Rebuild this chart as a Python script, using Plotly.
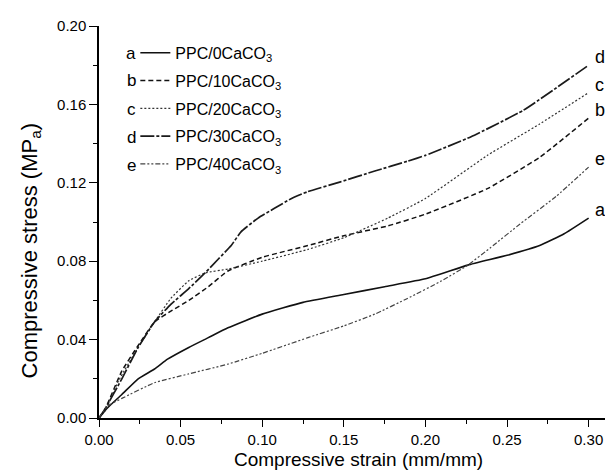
import plotly.graph_objects as go

# ---- data ----
x_a = [0, 0.005, 0.014, 0.024, 0.034, 0.042, 0.055, 0.067, 0.079, 0.10, 0.125, 0.15, 0.175, 0.20, 0.226, 0.25, 0.27, 0.285, 0.30]
y_a = [0, 0.005, 0.012, 0.020, 0.025, 0.030, 0.036, 0.041, 0.046, 0.053, 0.059, 0.063, 0.067, 0.071, 0.078, 0.083, 0.088, 0.094, 0.102]

x_b = [0, 0.004, 0.014, 0.024, 0.034, 0.045, 0.055, 0.067, 0.079, 0.10, 0.128, 0.15, 0.177, 0.20, 0.238, 0.27, 0.30]
y_b = [0, 0.005, 0.024, 0.037, 0.049, 0.055, 0.060, 0.067, 0.075, 0.082, 0.088, 0.093, 0.098, 0.104, 0.117, 0.133, 0.153]

x_c = [0, 0.004, 0.012, 0.024, 0.034, 0.044, 0.055, 0.065, 0.079, 0.10, 0.128, 0.15, 0.177, 0.20, 0.238, 0.27, 0.30]
y_c = [0, 0.004, 0.019, 0.036, 0.049, 0.061, 0.070, 0.074, 0.076, 0.080, 0.086, 0.092, 0.102, 0.112, 0.134, 0.150, 0.166]

x_d = [0, 0.004, 0.014, 0.024, 0.034, 0.044, 0.055, 0.065, 0.073, 0.081, 0.087, 0.0975, 0.1075, 0.118, 0.128, 0.148, 0.169, 0.189, 0.20, 0.228, 0.26, 0.30]
y_d = [0, 0.005, 0.020, 0.036, 0.049, 0.058, 0.066, 0.074, 0.081, 0.088, 0.095, 0.102, 0.107, 0.112, 0.1155, 0.1205, 0.126, 0.131, 0.134, 0.1435, 0.157, 0.180]

x_e = [0, 0.005, 0.014, 0.034, 0.055, 0.079, 0.10, 0.128, 0.15, 0.169, 0.189, 0.21, 0.226, 0.24, 0.258, 0.28, 0.30]
y_e = [0, 0.006, 0.010, 0.018, 0.0225, 0.0275, 0.033, 0.041, 0.047, 0.053, 0.061, 0.070, 0.078, 0.087, 0.099, 0.113, 0.128]

series_names = ["PPC/0CaCO<sub>3</sub>", "PPC/10CaCO<sub>3</sub>", "PPC/20CaCO<sub>3</sub>",
                "PPC/30CaCO<sub>3</sub>", "PPC/40CaCO<sub>3</sub>"]
series_letters = ["a", "b", "c", "d", "e"]
x_ticks = [0.00, 0.05, 0.10, 0.15, 0.20, 0.25, 0.30]
y_ticks = [0.00, 0.04, 0.08, 0.12, 0.16, 0.20]

xs = [x_a, x_b, x_c, x_d, x_e]
ys = [y_a, y_b, y_c, y_d, y_e]

styles = [
    dict(color="#111111", width=1.6, dash="solid"),
    dict(color="#111111", width=1.5, dash="5px,3px"),
    dict(color="#333333", width=1.2, dash="2px,2px"),
    dict(color="#1a1a1a", width=1.7, dash="14px,2px,3px,2px"),
    dict(color="#444444", width=1.2, dash="5px,2px,2px,2px,2px,2px"),
]

FONT = "Arial, 'Liberation Sans', sans-serif"

fig = go.Figure()
for i in range(5):
    fig.add_trace(go.Scatter(
        x=xs[i], y=ys[i], mode="lines", name=series_names[i],
        line=dict(shape="spline", smoothing=0.4, **styles[i]),
        legendgroup=series_letters[i],
    ))

# end-of-curve letters
for i in range(5):
    fig.add_annotation(x=xs[i][-1], y=ys[i][-1], text=series_letters[i],
                       showarrow=False, xanchor="left", yanchor="bottom",
                       xshift=4, yshift=-4,
                       font=dict(family=FONT, size=18, color="#000"))

# legend letters
for i in range(5):
    fig.add_annotation(xref="paper", yref="paper", x=0.062, y=(410 - 45 - 28 * i) / 392,
                       text=series_letters[i], showarrow=False, xanchor="center", yanchor="middle",
                       font=dict(family=FONT, size=17, color="#000"))

# axis titles as annotations
fig.add_annotation(xref="paper", yref="paper", x=-0.131, y=0.425,
                   text="Compressive stress (MP<sub>a</sub>)", textangle=-90,
                   showarrow=False, xanchor="center", yanchor="middle",
                   font=dict(family=FONT, size=22, color="#000"))
fig.add_annotation(xref="paper", yref="paper", x=0.5, y=-0.107,
                   text="Compressive strain (mm/mm)",
                   showarrow=False, xanchor="center", yanchor="middle",
                   font=dict(family=FONT, size=19, color="#000"))

fig.update_layout(
    width=613, height=470,
    margin=dict(l=91, r=3, t=18, b=60, autoexpand=False),
    paper_bgcolor="white", plot_bgcolor="white",
    font=dict(family=FONT, color="#000"),
    showlegend=True,
    legend=dict(x=0.07, y=0.975, xanchor="left", yanchor="top",
                bgcolor="rgba(0,0,0,0)", font=dict(family=FONT, size=16),
                tracegroupgap=4, itemwidth=30),
)

fig.update_xaxes(
    range=[0, 0.318], tickvals=x_ticks, ticktext=[f"{v:.2f}" for v in x_ticks],
    showline=True, linecolor="#000", linewidth=1.5, mirror=False,
    ticks="outside", ticklen=7, tickwidth=1.2, tickcolor="#000",
    minor=dict(dtick=0.025, tick0=0, ticks="outside", ticklen=4, tickcolor="#000", tickwidth=1),
    showgrid=False, zeroline=False, automargin=False,
    tickfont=dict(family=FONT, size=15, color="#000"),
)
fig.update_yaxes(
    range=[0, 0.2], tickvals=y_ticks, ticktext=[f"{v:.2f}" for v in y_ticks],
    showline=True, linecolor="#000", linewidth=1.5, mirror=False,
    ticks="outside", ticklen=8, tickwidth=1.2, tickcolor="#000",
    minor=dict(dtick=0.02, tick0=0, ticks="outside", ticklen=4, tickcolor="#000", tickwidth=1),
    showgrid=False, zeroline=False, automargin=False,
    tickfont=dict(family=FONT, size=15, color="#000"),
)

fig.write_html("out.html")
